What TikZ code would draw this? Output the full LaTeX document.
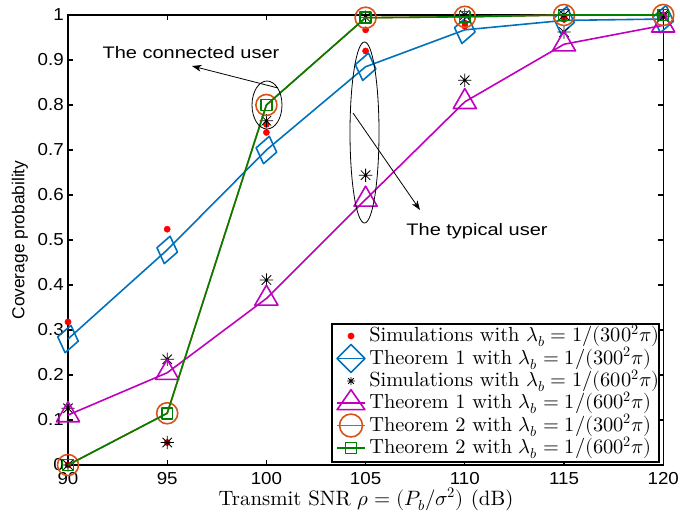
\documentclass[tikz,border=0pt]{standalone}
\usepackage{fontspec}
\usepackage{unicode-math}
\setmainfont{lmroman10-regular.otf}
\setmathfont{Latin Modern Math}
\setsansfont{Liberation Sans}
\newfontfamily\ticksans[FakeStretch=1.08]{Liberation Sans}
\newfontfamily\notesans[FakeStretch=1.2]{Liberation Sans}
\usetikzlibrary{arrows.meta,plotmarks}

\definecolor{mblue}{rgb}{0,0.447,0.741}
\definecolor{mmag}{rgb}{0.75,0,0.75}
\definecolor{morange}{rgb}{0.85,0.325,0.098}
\definecolor{mgreen}{rgb}{0,0.5,0}

% eight-ray asterisk, as in the simulation markers
\pgfdeclareplotmark{ast8}{%
  \pgfpathmoveto{\pgfqpoint{0pt}{\pgfplotmarksize}}%
  \pgfpathlineto{\pgfqpoint{0pt}{-\pgfplotmarksize}}%
  \pgfpathmoveto{\pgfqpoint{\pgfplotmarksize}{0pt}}%
  \pgfpathlineto{\pgfqpoint{-\pgfplotmarksize}{0pt}}%
  \pgfpathmoveto{\pgfqpoint{.707\pgfplotmarksize}{.707\pgfplotmarksize}}%
  \pgfpathlineto{\pgfqpoint{-.707\pgfplotmarksize}{-.707\pgfplotmarksize}}%
  \pgfpathmoveto{\pgfqpoint{-.707\pgfplotmarksize}{.707\pgfplotmarksize}}%
  \pgfpathlineto{\pgfqpoint{.707\pgfplotmarksize}{-.707\pgfplotmarksize}}%
  \pgfusepathqstroke}

\tikzset{
  axisline/.style={line width=0.8pt},
  ticklab/.style={font=\fontsize{13}{15}\selectfont\ticksans, inner sep=0pt},
  note/.style={font=\fontsize{12.5}{14}\selectfont\notesans, inner sep=0pt},
  legtext/.style={font=\fontsize{15.3}{17}\selectfont, anchor=west, inner sep=0pt},
  pointer/.style={line width=0.6pt, -{Stealth[length=7pt, width=5pt, inset=2pt]}},
  curve/.style={line width=1.2pt, line join=round},
  simA/.style={red, only marks, mark=*, mark size=2.3pt},
  simB/.style={black, only marks, mark=ast8, mark size=5pt, line width=0.6pt},
  thA/.style={curve, mblue, mark=diamond, mark size=10.5pt, mark options={rotate=-12}},
  thB/.style={curve, mmag, mark=triangle, mark size=10pt},
  thC/.style={curve, morange, mark=o, mark size=7.9pt},
  thD/.style={curve, mgreen, mark=square, mark size=4.1pt},
  legmark/.style={mark indices={2}}
}

\begin{document}
\begin{tikzpicture}[x=0.75pt, y=0.75pt]
  \useasboundingbox (0,0) rectangle (680,515);

  \begin{scope}[shift={(68,50)}, x=14.88pt, y=337.5pt, shift={(-90,0)}]
    % ticks and tick labels
    \foreach \s in {90,95,...,120} {
      \draw[axisline] (\s,0) -- ++(0pt,4pt);
      \draw[axisline] (\s,1) -- ++(0pt,-4pt);
      \node[ticklab, anchor=north] (xl\s) at ([yshift=-5.3pt]\s,0) {\s};
    }
    \foreach \i/\lab in {0/0,1/0.1,2/0.2,3/0.3,4/0.4,5/0.5,6/0.6,7/0.7,8/0.8,9/0.9,10/1} {
      \draw[axisline] (90,\i/10) -- ++(4pt,0pt);
      \draw[axisline] (120,\i/10) -- ++(-4pt,0pt);
      \node[ticklab, anchor=east] (yl\i) at ([xshift=-3pt]90,\i/10) {\lab};
    }
    \draw[axisline] (90,0) rectangle (120,1);

    % simulations, lambda_b = 1/(300^2 pi)
    \draw[simA] plot coordinates {(90,0.318) (95,0.524) (100,0.739) (105,0.92) (110,0.975) (115,0.99) (120,0.998)
      (90,0) (95,0.05) (100,0.757) (105,0.967) (110,0.982) (115,0.996) (120,1)};
    % theorem 1, 300
    \draw[thA] plot coordinates {(90,0.28) (95,0.478) (100,0.70) (105,0.885) (110,0.967) (115,0.988) (120,0.991)};
    % simulations, 600
    \draw[simB] plot coordinates {(90,0.126) (95,0.235) (100,0.411) (105,0.644) (110,0.855) (115,0.962) (120,0.996)
      (90,0) (95,0.05) (100,0.765) (105,0.995) (110,1) (115,1) (120,1)};
    % theorem 1, 600
    \draw[thB] plot coordinates {(90,0.111) (95,0.205) (100,0.37) (105,0.59) (110,0.807) (115,0.935) (120,0.977)};
    % theorem 2, 300 and 600
    \draw[thC] plot coordinates {(90,0) (95,0.115) (100,0.80) (105,0.994) (110,0.996) (115,1) (120,1)};
    \draw[thD] plot coordinates {(90,0) (95,0.115) (100,0.80) (105,0.994) (110,0.996) (115,1) (120,1)};
  \end{scope}

  % annotations
  \draw[line width=0.6pt] (267,410) ellipse [x radius=15, y radius=24];
  \draw[line width=0.6pt] (364.5,382.5) ellipse [x radius=14.5, y radius=90.5];
  \node[note] (connected) at (191,462) {The connected user};
  \node[note] (typical) at (477,284) {The typical user};
  \coordinate (ctail) at (278,427);
  \coordinate (chead) at (192,449);
  \coordinate (ttail) at (353,402);
  \coordinate (thead) at (420,305);
  \draw[pointer] (ctail) -- (chead);
  \draw[pointer] (ttail) -- (thead);

  % legend
  \draw[axisline, fill=white] (332,53) rectangle (659,191);
  \draw[simA, legmark] plot coordinates {(337,179) (351,179) (365,179)};
  \draw[thA, legmark, mark options={xscale=1.33}] plot coordinates {(337,156.5) (351,156.5) (365,156.5)};
  \draw[simB, legmark, mark size=3pt] plot coordinates {(337,134) (351,134) (365,134)};
  \draw[thB, legmark, mark options={yscale=0.83}, mark size=12pt] plot coordinates {(337,112) (351,112) (365,112)};
  \draw[thC, legmark, mark size=8.6pt] plot coordinates {(337,89.5) (351,89.5) (365,89.5)};
  \draw[thD, legmark] plot coordinates {(337,67) (351,67) (365,67)};
  \node[legtext] (leg1) at (369,179) {Simulations with $\lambda_b=1/(300^2\pi)$};
  \node[legtext] (leg2) at (369,156.5) {Theorem 1 with $\lambda_b=1/(300^2\pi)$};
  \node[legtext] (leg3) at (369,134) {Simulations with $\lambda_b=1/(600^2\pi)$};
  \node[legtext] (leg4) at (369,112) {Theorem 1 with $\lambda_b=1/(600^2\pi)$};
  \node[legtext] (leg5) at (369,89.5) {Theorem 2 with $\lambda_b=1/(300^2\pi)$};
  \node[legtext] (leg6) at (369,67) {Theorem 2 with $\lambda_b=1/(600^2\pi)$};

  % axis labels
  \node[font=\fontsize{15.6}{17}\selectfont, anchor=base, inner sep=0pt] (xlab) at (366,10) {Transmit SNR $\rho=(P_b/\sigma^2)$ (dB)};
  \node[font=\fontsize{13}{15}\selectfont\sffamily, rotate=90] (ylab) at (20,275) {Coverage probability};
\end{tikzpicture}
\end{document}
